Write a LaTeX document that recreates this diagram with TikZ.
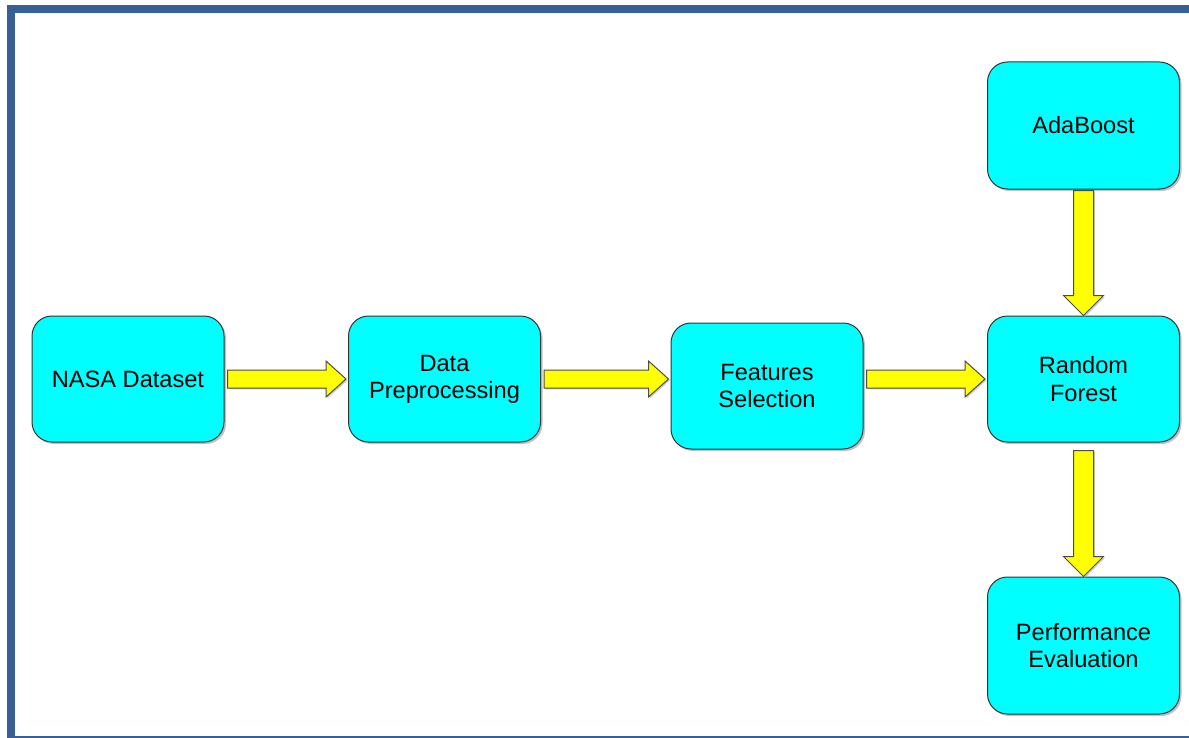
\documentclass[tikz,border=0pt]{standalone}
\usepackage{fontspec}
\setmainfont{Liberation Sans}
\usetikzlibrary{calc,shadows}
\definecolor{framebl}{RGB}{54,96,150}
\definecolor{boxcyan}{RGB}{0,255,255}
\definecolor{arrowyel}{RGB}{255,255,0}

% horizontal block arrow: source, target, coordinate giving the row
\newcommand\rightblock[3]{%
  \draw[flow] let \p1=(#1.east), \p2=(#2.west), \p3=(#3) in
    (\x1+1.5pt,\y3+4.5pt) -- (\x2-11pt,\y3+4.5pt) -- (\x2-11pt,\y3+9pt)
    -- (\x2-1pt,\y3) -- (\x2-11pt,\y3-9pt) -- (\x2-11pt,\y3-4.5pt)
    -- (\x1+1.5pt,\y3-4.5pt) -- cycle;}
% vertical block arrow: gap below the source, source above, target below
\newcommand\downblock[3]{%
  \draw[flow] let \p1=(#2.south), \p2=(#3.north) in
    (\x2-5pt,\y1-#1) -- (\x2-5pt,\y2+10pt) -- (\x2-10pt,\y2+10pt)
    -- (\x2,\y2) -- (\x2+10pt,\y2+10pt) -- (\x2+5pt,\y2+10pt)
    -- (\x2+5pt,\y1-#1) -- cycle;}

\begin{document}
\begin{tikzpicture}[x=0.5pt,y=-0.5pt,
  stage/.style={draw=black!80, line width=0.5pt, fill=boxcyan,
    rounded corners=10pt, minimum width=96pt, minimum height=63pt,
    align=center, inner sep=0pt,
    font=\fontsize{11.8}{13.6}\selectfont,
    drop shadow={shadow xshift=1pt, shadow yshift=-1pt,
      fill=black!40, opacity=0.6}},
  flow/.style={draw=black!70, line width=0.5pt, fill=arrowyel,
    line join=miter,
    drop shadow={shadow xshift=0.7pt, shadow yshift=-0.7pt,
      fill=black!40, opacity=0.5}}]

\useasboundingbox (0,0) rectangle (1189,738);
\clip (0,0) rectangle (1189,738);

% page frame
\draw[framebl, line width=4pt] (11,9) rectangle (1210,739.5);

% stages
\node[stage] (nasa) at (128,379) {NASA Dataset};
\node[stage] (prep) at (444.5,379) {Data\\Preprocessing};
\node[stage] (feat) at (767,386) {Features\\Selection};
\node[stage] (rf)   at (1083.5,379) {Random\\Forest};
\node[stage, minimum height=63.5pt] (ada) at (1083.5,125.5) {AdaBoost};
\node[stage, minimum height=68.5pt] (perf) at (1083.5,645.5) {Performance\\Evaluation};

\coordinate (row) at (0,379);

% flow arrows
\rightblock{nasa}{prep}{row}
\rightblock{prep}{feat}{row}
\rightblock{feat}{rf}{row}
\downblock{0.5pt}{ada}{rf}
\downblock{4pt}{rf}{perf}

\end{tikzpicture}
\end{document}
